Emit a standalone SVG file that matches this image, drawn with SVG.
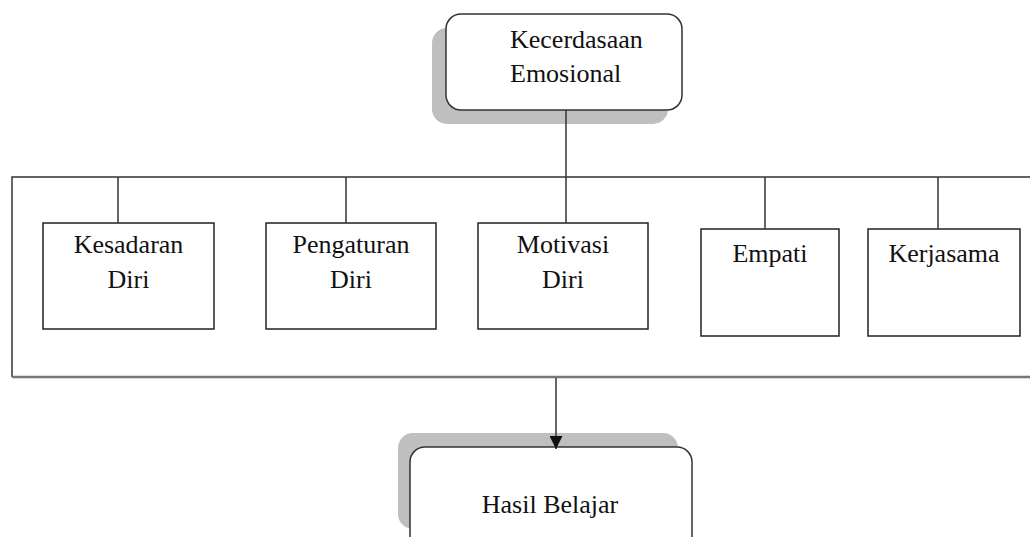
<svg xmlns="http://www.w3.org/2000/svg" width="1030" height="537" viewBox="0 0 1030 537">
<defs>
<style>
text{font-family:"Liberation Serif","Times New Roman",serif;font-size:26px;fill:#111;}
.box{fill:#fff;stroke:#222;stroke-width:1.5;}
.rbox{fill:#fff;stroke:#333;stroke-width:1.5;}
.shadow{fill:#bfbfbf;stroke:none;}
.line{stroke:#333;stroke-width:1.5;fill:none;}
</style>
<marker id="arr" viewBox="0 0 10 10" refX="10" refY="5" markerWidth="15" markerHeight="13" markerUnits="userSpaceOnUse" orient="auto">
<path d="M0,0 L10,5 L0,10 z" fill="#111"/>
</marker>
</defs>
<rect width="1030" height="537" fill="#fff"/>
<g id="node-kecerdasaan">
<rect class="shadow" x="432" y="28" width="236" height="96" rx="15"/>
<rect class="rbox" x="446" y="14" width="236" height="96" rx="15"/>
<text x="510" y="48">Kecerdasaan</text>
<text x="510" y="82">Emosional</text>
</g>
<g id="node-kesadaran">
<rect class="box" x="43" y="223" width="171" height="106"/>
<text x="128.5" y="253" text-anchor="middle">Kesadaran</text>
<text x="128.5" y="288" text-anchor="middle">Diri</text>
</g>
<g id="node-pengaturan">
<rect class="box" x="266" y="223" width="170" height="106"/>
<text x="351" y="253" text-anchor="middle">Pengaturan</text>
<text x="351" y="288" text-anchor="middle">Diri</text>
</g>
<g id="node-motivasi">
<rect class="box" x="478" y="223" width="170" height="106"/>
<text x="563" y="253" text-anchor="middle">Motivasi</text>
<text x="563" y="288" text-anchor="middle">Diri</text>
</g>
<g id="node-empati">
<rect class="box" x="701" y="229" width="138" height="107"/>
<text x="770" y="262" text-anchor="middle">Empati</text>
</g>
<g id="node-kerjasama">
<rect class="box" x="868" y="229" width="152" height="107"/>
<text x="944" y="262" text-anchor="middle">Kerjasama</text>
</g>
<g id="node-hasil">
<rect class="shadow" x="398" y="433" width="280" height="96" rx="15"/>
<rect class="rbox" x="410" y="447" width="282" height="110" rx="15"/>
<text x="550" y="513" text-anchor="middle">Hasil Belajar</text>
</g>
<g id="connectors">
<path class="line" d="M1030,177 L12,177 L12,377"/>
<path d="M12,377 L1030,377" stroke="#777" stroke-width="2.5" fill="none"/>
<path class="line" d="M566,110 L566,177"/>
<path class="line" d="M118,177 L118,223"/>
<path class="line" d="M346,177 L346,223"/>
<path class="line" d="M566,177 L566,223"/>
<path class="line" d="M765,177 L765,229"/>
<path class="line" d="M938,177 L938,229"/>
<path class="line" d="M556,378 L556,449" marker-end="url(#arr)"/>
</g>
</svg>
